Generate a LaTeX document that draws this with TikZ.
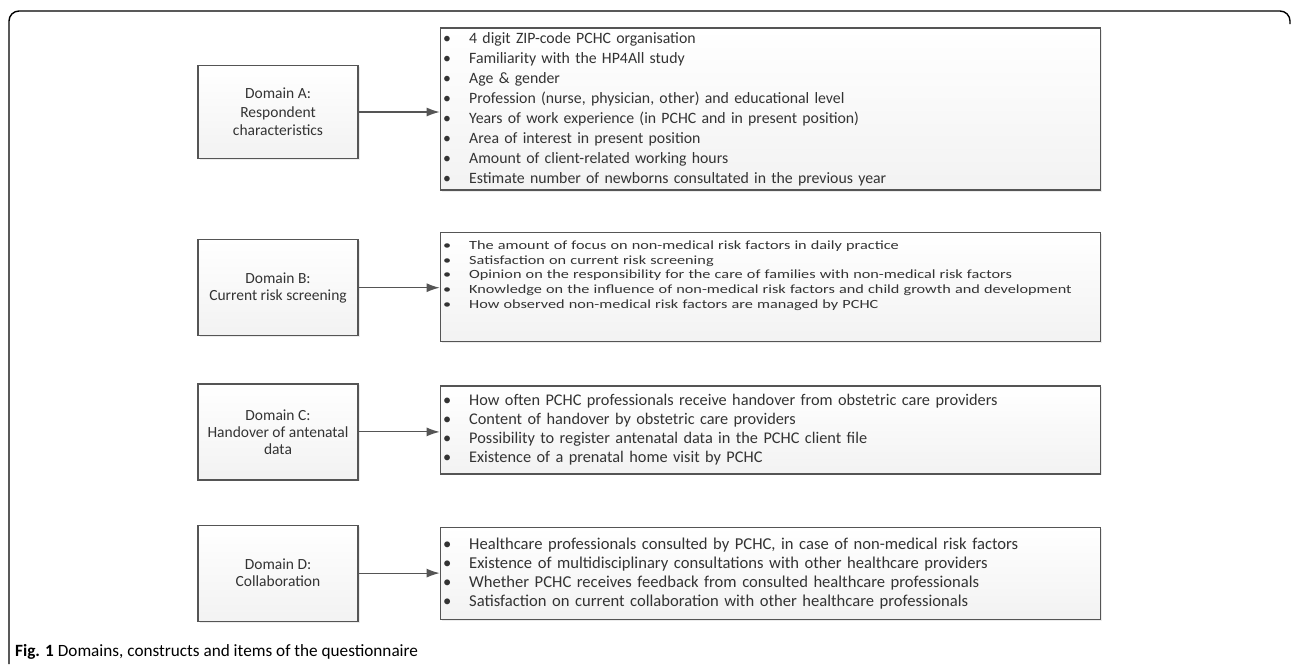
\documentclass[tikz,border=0pt]{standalone}
\usepackage{fontspec}
\setmainfont{Carlito}
\newfontfamily\listfont[FakeStretch=1.3]{Carlito}
\usetikzlibrary{positioning,shadows,arrows.meta}
\definecolor{qText}{HTML}{333333}
\definecolor{qLine}{HTML}{555555}
\newcommand{\itm}[1]{\makebox[26pt][l]{\textbullet}#1}

\begin{document}
\begin{tikzpicture}[x=1pt,y=-1pt,node distance=81pt,>={Latex[length=13pt,width=9pt]}]
  \tikzstyle{domainbox}=[draw=qLine,line width=1.2pt,align=center,text=qText,
    minimum width=160pt,minimum height=96pt,top color=white,bottom color=black!5,
    drop shadow={opacity=0.15,shadow xshift=1.5pt,shadow yshift=-1.5pt},
    font=\fontsize{15.5}{17}\selectfont]
  \tikzstyle{itembox}=[draw=qLine,line width=1.2pt,align=left,text=qText,
    text width=654pt,inner xsep=3pt,top color=white,bottom color=black!5,
    drop shadow={opacity=0.15,shadow xshift=1.5pt,shadow yshift=-1.5pt}]
  \useasboundingbox (0,0) rectangle (1292,664);
  % frame round the figure
  \draw[line width=1.4pt,rounded corners=10pt] (9,664) -- (9,11) -- (1290,11) -- (1290,24);
  % domains
  \node[domainbox,minimum height=93pt,font=\fontsize{15.5}{18.5}\selectfont] (domA) at (278,112) {Domain A:\\Respondent\\characteristics};
  \node[domainbox,below=80pt of domA] (domB) {Domain B:\\Current risk screening};
  \node[domainbox,below=47pt of domB] (domC) {Domain C:\\Handover of antenatal\\data};
  \node[domainbox,below=44pt of domC] (domD) {Domain D:\\Collaboration};
  % items
  \node[itembox,right=of domA,yshift=3pt,minimum height=162pt,
    font=\fontsize{15.8}{20}\selectfont] (itmA) {%
    \itm{4 digit ZIP-code PCHC organisation}\\
    \itm{Familiarity with the HP4All study}\\
    \itm{Age \& gender}\\
    \itm{Profession (nurse, physician, other) and educational level}\\
    \itm{Years of work experience (in PCHC and in present position)}\\
    \itm{Area of interest in present position}\\
    \itm{Amount of client-related working hours}\\
    \itm{Estimate number of newborns consultated in the previous year}};
  \node[itembox,right=of domB,yshift=1pt,minimum height=109pt,
    font=\listfont\fontsize{12.5}{14.7}\selectfont] (itmB) {%
    \itm{The amount of focus on non-medical risk factors in daily practice}\\
    \itm{Satisfaction on current risk screening}\\
    \itm{Opinion on the responsibility for the care of families with non-medical risk factors}\\
    \itm{Knowledge on the influence of non-medical risk factors and child growth and development}\\
    \itm{How observed non-medical risk factors are managed by PCHC}\par\vspace*{22pt}};
  \node[itembox,right=of domC,yshift=2pt,minimum height=88pt,
    font=\fontsize{16.3}{19}\selectfont] (itmC) {%
    \itm{How often PCHC professionals receive handover from obstetric care providers}\\
    \itm{Content of handover by obstetric care providers}\\
    \itm{Possibility to register antenatal data in the PCHC client file}\\
    \itm{Existence of a prenatal home visit by PCHC}};
  \node[itembox,right=of domD,minimum height=92pt,
    font=\fontsize{16.6}{19}\selectfont] (itmD) {%
    \itm{Healthcare professionals consulted by PCHC, in case of non-medical risk factors}\\
    \itm{Existence of multidisciplinary consultations with other healthcare providers}\\
    \itm{Whether PCHC receives feedback from consulted healthcare professionals}\\
    \itm{Satisfaction on current collaboration with other healthcare professionals}};
  \foreach \d in {A,B,C,D}
    \draw[->,line width=1.1pt,qLine] (dom\d.east) -- (dom\d.east -| itm\d.west);
  % caption
  \node[anchor=base west,inner sep=0pt,font=\fontsize{17.2}{20}\selectfont] (cap) at (15,656)
    {\textbf{Fig. 1} Domains, constructs and items of the questionnaire};
\end{tikzpicture}
\end{document}
